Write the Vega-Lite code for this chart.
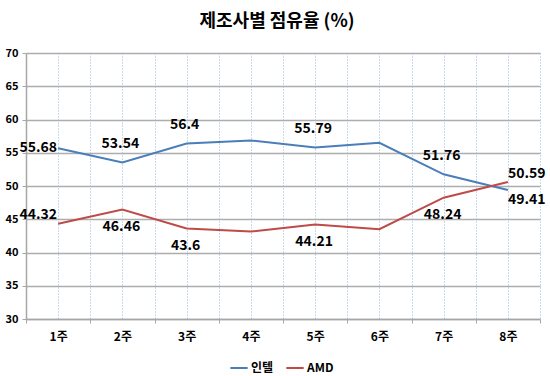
{
  "$schema": "https://vega.github.io/schema/vega-lite/v6.json",
  "autosize": "none",
  "width": 514,
  "height": 266,
  "padding": {"left": 26, "top": 53, "right": 10, "bottom": 57},
  "background": "white",
  "title": {
    "text": "제조사별 점유율 (%)",
    "font": "Noto Sans CJK KR",
    "fontSize": 18,
    "fontWeight": "bold",
    "color": "#000000",
    "anchor": "middle",
    "frame": "group",
    "dx": -6,
    "offset": 16
  },
  "config": {
    "view": {"stroke": null},
    "font": "Noto Sans CJK KR"
  },
  "data": {
    "values": [
      {"week": 1, "series": "인텔", "share": 55.68},
      {"week": 2, "series": "인텔", "share": 53.54},
      {"week": 3, "series": "인텔", "share": 56.4},
      {"week": 4, "series": "인텔", "share": 56.85},
      {"week": 5, "series": "인텔", "share": 55.79},
      {"week": 6, "series": "인텔", "share": 56.5},
      {"week": 7, "series": "인텔", "share": 51.76},
      {"week": 8, "series": "인텔", "share": 49.41},
      {"week": 1, "series": "AMD", "share": 44.32},
      {"week": 2, "series": "AMD", "share": 46.46},
      {"week": 3, "series": "AMD", "share": 43.6},
      {"week": 4, "series": "AMD", "share": 43.15},
      {"week": 5, "series": "AMD", "share": 44.21},
      {"week": 6, "series": "AMD", "share": 43.5},
      {"week": 7, "series": "AMD", "share": 48.24},
      {"week": 8, "series": "AMD", "share": 50.59}
    ]
  },
  "encoding": {
    "x": {
      "field": "week",
      "type": "quantitative",
      "scale": {"domain": [0.5, 8.5], "nice": false, "zero": false},
      "axis": {
        "title": null,
        "values": [0.5, 1, 1.5, 2, 2.5, 3, 3.5, 4, 4.5, 5, 5.5, 6, 6.5, 7, 7.5, 8, 8.5],
        "labelExpr": "datum.value % 1 == 0 ? datum.value + '주' : ''",
        "labelFont": "Noto Sans CJK KR",
        "labelFontSize": 12,
        "labelFontWeight": "bold",
        "labelColor": "#000000",
        "labelPadding": 8,
        "labelFlush": false,
        "labelOverlap": false,
        "domainColor": "#A6A6A6",
        "domainWidth": 1.5,
        "tickColor": "#A6A6A6",
        "tickSize": 4,
        "tickWidth": 1,
        "tickOpacity": {"expr": "datum.value % 1 == 0 ? 0 : 1"},
        "grid": true,
        "gridColor": "#8EB4E3",
        "gridDash": [1, 2],
        "gridWidth": 1,
        "gridOpacity": {"expr": "datum.value == 0.5 ? 0 : 1"}
      }
    },
    "y": {
      "field": "share",
      "type": "quantitative",
      "scale": {"domain": [30, 70], "nice": false, "zero": false},
      "axis": {
        "title": null,
        "values": [30, 35, 40, 45, 50, 55, 60, 65, 70],
        "labelFont": "Noto Sans CJK KR",
        "labelFontSize": 11,
        "labelFontWeight": "bold",
        "labelColor": "#000000",
        "labelPadding": 4,
        "domainColor": "#A6A6A6",
        "domainWidth": 1.5,
        "tickColor": "#A6A6A6",
        "tickSize": 4,
        "grid": true,
        "gridColor": "#ADADAD",
        "gridWidth": 1.5
      }
    }
  },
  "layer": [
    {
      "mark": {"type": "line", "strokeWidth": 2},
      "encoding": {
        "color": {
          "field": "series",
          "type": "nominal",
          "scale": {"domain": ["인텔", "AMD"], "range": ["#4A7EBB", "#BE4B48"]},
          "legend": {
            "title": null,
            "orient": "none",
            "direction": "horizontal",
            "legendX": 203,
            "legendY": 305,
            "symbolType": "stroke",
            "symbolSize": 300,
            "symbolStrokeWidth": 2,
            "labelFont": "Noto Sans CJK KR",
            "labelFontSize": 12,
            "labelFontWeight": "bold",
            "labelColor": "#000000",
            "labelOffset": 2,
            "columnPadding": 8
          }
        }
      }
    },
    {
      "transform": [{"filter": "datum.series == '인텔' && (datum.week == 2 || datum.week == 3 || datum.week == 5 || datum.week == 7)"}],
      "mark": {"type": "text", "font": "Noto Sans CJK KR", "fontSize": 14, "fontWeight": "bold", "color": "#000000", "baseline": "middle", "align": "center", "dy": -18, "dx": -2},
      "encoding": {"text": {"field": "share", "type": "quantitative"}}
    },
    {
      "transform": [{"filter": "datum.series == 'AMD' && (datum.week == 2 || datum.week == 3 || datum.week == 5 || datum.week == 7)"}],
      "mark": {"type": "text", "font": "Noto Sans CJK KR", "fontSize": 14, "fontWeight": "bold", "color": "#000000", "baseline": "middle", "align": "center", "dy": 17, "dx": -1},
      "encoding": {"text": {"field": "share", "type": "quantitative"}}
    },
    {
      "transform": [{"filter": "datum.series == '인텔' && datum.week == 1"}],
      "mark": {"type": "text", "font": "Noto Sans CJK KR", "fontSize": 14, "fontWeight": "bold", "color": "#000000", "baseline": "middle", "align": "right", "dy": 0, "dx": -1},
      "encoding": {"text": {"field": "share", "type": "quantitative"}}
    },
    {
      "transform": [{"filter": "datum.series == 'AMD' && datum.week == 1"}],
      "mark": {"type": "text", "font": "Noto Sans CJK KR", "fontSize": 14, "fontWeight": "bold", "color": "#000000", "baseline": "middle", "align": "right", "dy": -9, "dx": -1},
      "encoding": {"text": {"field": "share", "type": "quantitative"}}
    },
    {
      "transform": [{"filter": "datum.series == 'AMD' && datum.week == 8"}],
      "mark": {"type": "text", "font": "Noto Sans CJK KR", "fontSize": 14, "fontWeight": "bold", "color": "#000000", "baseline": "middle", "align": "left", "dy": -8, "dx": 0},
      "encoding": {"text": {"field": "share", "type": "quantitative"}}
    },
    {
      "transform": [{"filter": "datum.series == '인텔' && datum.week == 8"}],
      "mark": {"type": "text", "font": "Noto Sans CJK KR", "fontSize": 14, "fontWeight": "bold", "color": "#000000", "baseline": "middle", "align": "left", "dy": 10, "dx": 0},
      "encoding": {"text": {"field": "share", "type": "quantitative"}}
    }
  ]
}
